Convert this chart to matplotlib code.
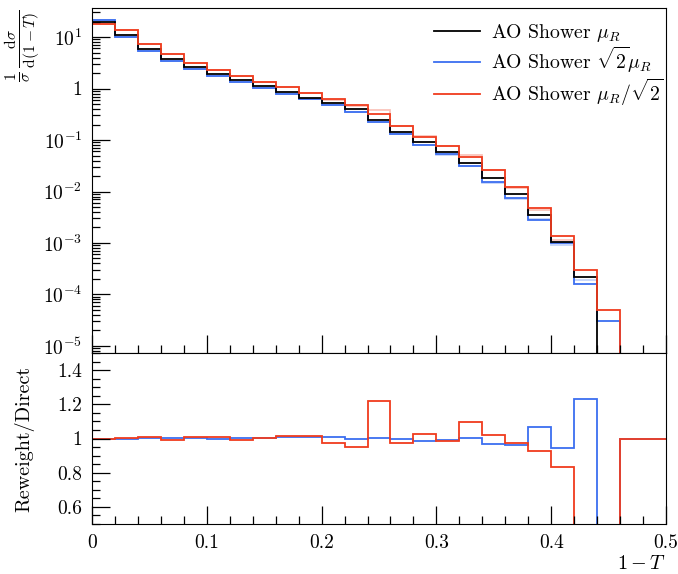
import numpy as np
import matplotlib
matplotlib.use("Agg")
import matplotlib.pyplot as plt
from matplotlib.ticker import LogLocator, FixedLocator, MultipleLocator, FuncFormatter

# =============================
# DATA
# =============================
edges = np.round(np.arange(0.0, 0.5001, 0.02), 2)

# direct showers, 1/sigma dsigma/d(1-T)
central = [19.3, 10.8, 5.85, 3.73, 2.58, 1.92, 1.48, 1.12, 0.865, 0.66,
           0.514, 0.394, 0.244, 0.145, 0.0898, 0.0582, 0.0351, 0.0182,
           0.00877, 0.00347, 0.00105, 2.19e-4, 0.0, 0.0, 0.0]
up = [21.4, 9.87, 5.42, 3.46, 2.42, 1.78, 1.35, 1.02, 0.79, 0.616,
      0.476, 0.348, 0.22, 0.129, 0.0796, 0.0525, 0.0307, 0.0154,
      0.00743, 0.00277, 0.00098, 1.58e-4, 3.0e-5, 0.0, 0.0]
down = [17.9, 13.7, 7.31, 4.61, 3.16, 2.29, 1.75, 1.33, 1.05, 0.816,
        0.624, 0.483, 0.314, 0.189, 0.116, 0.0771, 0.0459, 0.0256,
        0.0123, 0.00481, 0.00137, 2.96e-4, 5.0e-5, 0.0, 0.0]

# reweight / direct
ratio_up = [1.0, 1.0, 1.002, 1.002, 1.004, 1.0, 1.004, 1.002, 1.006, 1.01,
            1.008, 0.998, 1.004, 0.998, 0.988, 0.99, 1.002, 0.965, 0.961,
            1.065, 0.942, 1.23, 0.0, 1.0, 1.0]
ratio_down = [0.995, 1.002, 1.006, 0.994, 1.008, 1.006, 0.99, 1.002, 1.012,
              1.015, 0.972, 0.948, 1.219, 0.971, 1.029, 0.985, 1.094, 1.021,
              0.971, 0.927, 0.831, 0.0, 0.0, 1.0, 1.0]

labels = [r"AO Shower $\mu_R$",
          r"AO Shower $\sqrt{2}\mu_R$",
          r"AO Shower $\mu_R/\sqrt{2}$"]

BLACK = "black"
BLUE = "#3c6ef0"
RED = "#f03c1e"

# =============================
# STYLE
# =============================
plt.rcParams["font.family"] = "serif"
plt.rcParams["font.serif"] = ["cmr10"]
plt.rcParams["mathtext.fontset"] = "cm"
plt.rcParams["axes.formatter.use_mathtext"] = True
plt.rcParams["axes.unicode_minus"] = False


def log_fmt(v, pos):
    n = int(round(np.log10(v)))
    if n == 0:
        return "1"
    return r"$10^{%d}$" % n


def plain_fmt(v, pos):
    return "%g" % v


def style_ticks(ax):
    ax.tick_params(which="both", direction="in", top=False, right=False,
                   color="black", labelsize=14)
    ax.tick_params(which="major", length=13, width=0.9)
    ax.tick_params(which="minor", length=6, width=0.9)
    ax.tick_params(axis="x", pad=7)
    ax.tick_params(axis="y", pad=7)


def reweighted(direct, ratio):
    # reweighted histogram = direct * ratio, empty bins left out
    direct = np.array(direct)
    ratio = np.array(ratio)
    rw = direct * ratio
    rw[(ratio == 0) | (direct == 0)] = np.nan
    return rw


# =============================
# PLOT
# =============================
fig = plt.figure(figsize=(6.78, 5.74), dpi=100)
ax1 = fig.add_axes([0.1357, 0.385, 0.8466, 0.601])
ax2 = fig.add_axes([0.1357, 0.0871, 0.8466, 0.2979], sharex=ax1)

ax1.set_yscale("log")

# faint reweighted histograms
ax1.stairs(reweighted(up, ratio_up), edges, baseline=None,
           color=BLUE, lw=1.3, alpha=0.3)
ax1.stairs(reweighted(down, ratio_down), edges, baseline=None,
           color=RED, lw=1.3, alpha=0.3)

ax1.stairs(up, edges, baseline=None, color=BLUE, lw=1.3)
ax1.stairs(central, edges, baseline=None, color=BLACK, lw=1.3)
ax1.stairs(down, edges, baseline=None, color=RED, lw=1.3)

ax1.set_xlim(0, 0.5)
ax1.set_ylim(7.3e-6, 36.6)
ax1.yaxis.set_major_locator(FixedLocator([1e-5, 1e-4, 1e-3, 1e-2, 1e-1, 1, 10]))
ax1.yaxis.set_minor_locator(LogLocator(base=10, subs=np.arange(2, 10), numticks=20))
ax1.yaxis.set_major_formatter(FuncFormatter(log_fmt))
ax1.yaxis.set_minor_formatter(FuncFormatter(lambda v, p: ""))
ax1.xaxis.set_major_locator(MultipleLocator(0.1))
ax1.xaxis.set_minor_locator(MultipleLocator(0.02))
style_ticks(ax1)
ax1.tick_params(axis="x", labelbottom=False)

fig.text(22 / 678, 1 - 10 / 574,
         r"$\frac{1}{\sigma}\,\frac{\mathrm{d}\sigma}{\mathrm{d}(1-T)}$",
         fontsize=16, rotation=90, ha="center", va="top")

leg_handles = [plt.Line2D([], [], color=c, lw=1.3) for c in (BLACK, BLUE, RED)]
ax1.legend(leg_handles, labels, loc="upper right", frameon=False,
           fontsize=14.2, handlelength=2.35, handletextpad=0.55,
           labelspacing=0.07, borderaxespad=0.0, borderpad=0.0,
           bbox_to_anchor=(0.996, 0.96))

# ratio panel
ax2.stairs(ratio_up, edges, baseline=None, color=BLUE, lw=1.3)
ax2.stairs(ratio_down, edges, baseline=None, color=RED, lw=1.3)

ax2.set_ylim(0.5, 1.5)
ax2.yaxis.set_major_locator(FixedLocator([0.6, 0.8, 1.0, 1.2, 1.4]))
ax2.yaxis.set_minor_locator(MultipleLocator(0.05))
ax2.yaxis.set_major_formatter(FuncFormatter(plain_fmt))
ax2.xaxis.set_major_formatter(FuncFormatter(plain_fmt))
style_ticks(ax2)

ax2.set_ylabel("Reweight/Direct", fontsize=14.5)
ax2.yaxis.set_label_coords(-0.1, 0.5)
ax2.set_xlabel(r"$1-T$", fontsize=14.5, loc="right")
ax2.xaxis.set_label_coords(1.0, -0.18)

fig.savefig("out.png", dpi=100)
